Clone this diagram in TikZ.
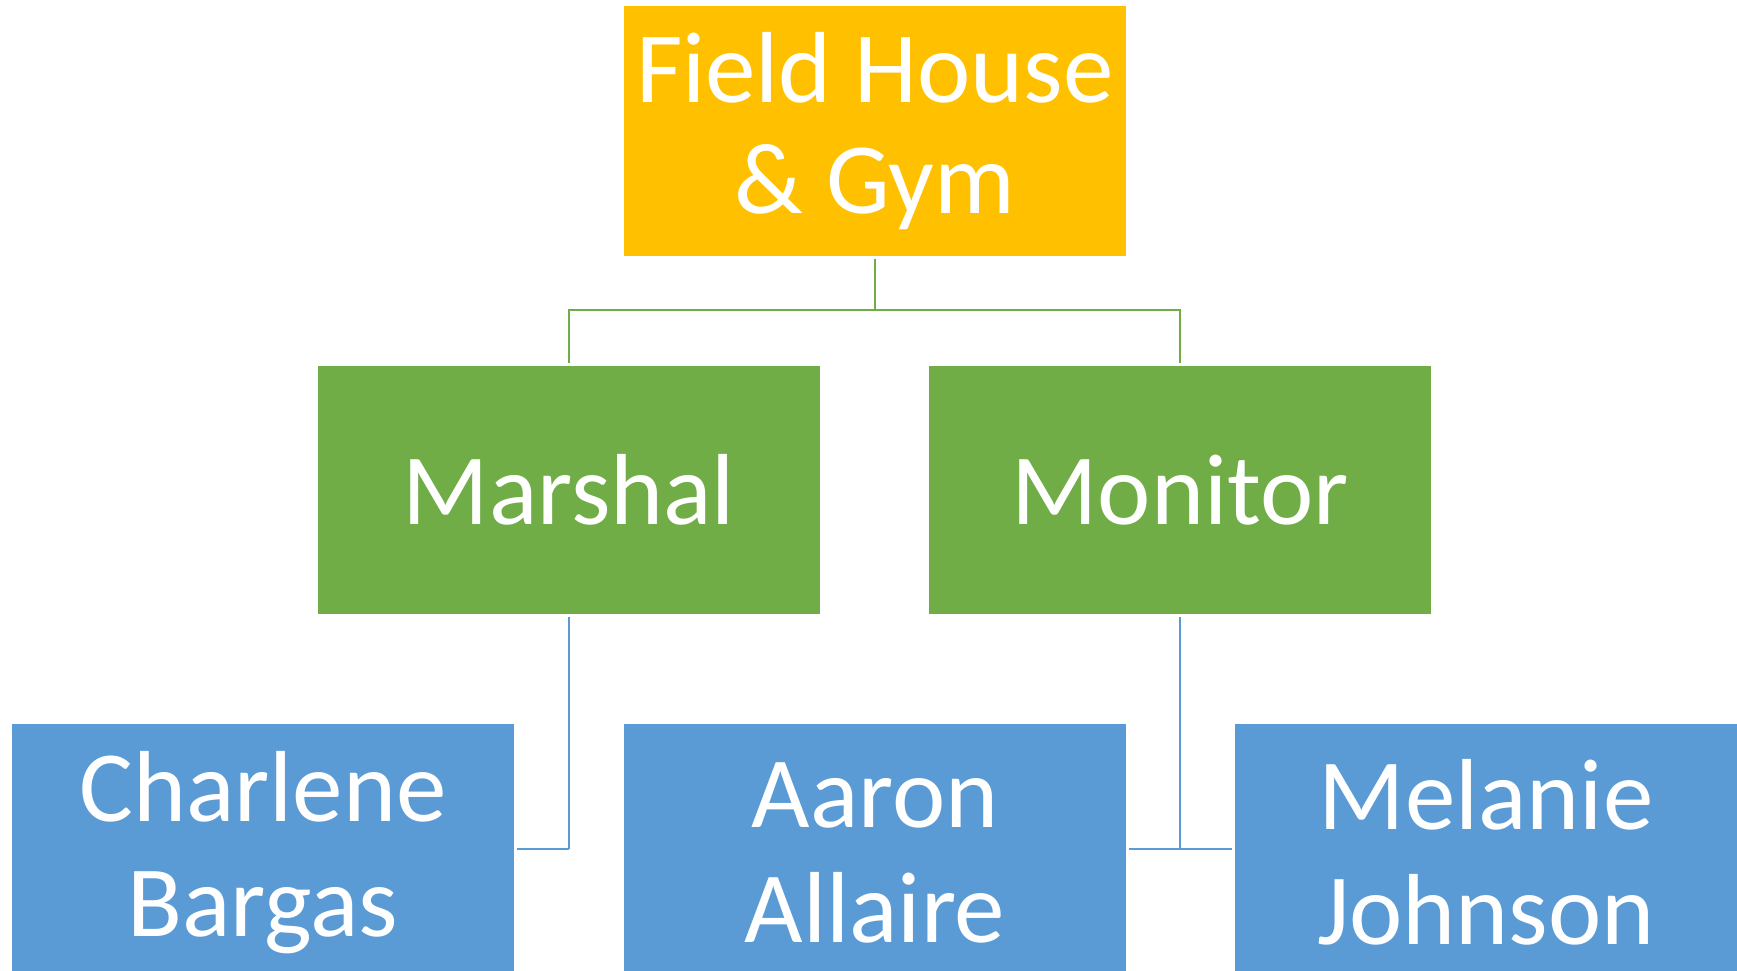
\documentclass[tikz,border=0pt]{standalone}
\usepackage{fontspec}
\setmainfont{Carlito}
\usepackage{xcolor}
\usepackage{tikz}
\definecolor{headorange}{HTML}{FFC000}
\definecolor{rolegreen}{HTML}{70AD47}
\definecolor{staffblue}{HTML}{5B9BD5}

\begin{document}
\begin{tikzpicture}[x=1pt, y=1pt,
    box/.style={inner sep=0pt, minimum width=502pt, minimum height=250pt, align=center, text=white, font=\fontsize{101}{111}\selectfont},
    headbox/.style={box, fill=headorange},
    rolebox/.style={box, fill=rolegreen, minimum height=248pt},
    staffbox/.style={box, fill=staffblue, minimum height=257pt, font=\fontsize{101}{115}\selectfont},
    greenlink/.style={rolegreen, line width=2pt, shorten <=3pt, shorten >=3pt},
    bluelink/.style={staffblue, line width=2pt, shorten <=3pt, shorten >=3pt}
]
\useasboundingbox (0,0) rectangle (1737,970);
\clip (0,0) rectangle (1737,970);
% Level 1: venue
\node[headbox] (gym) at (875,839) {Field House\\\& Gym};
% Level 2: roles
\node[rolebox] (marshal) at (569,480) {Marshal};
\node[rolebox] (monitor) at (1180,480) {Monitor};
% Level 3: people
\node[staffbox] (charlene) at (263,117.5) {Charlene\\Bargas};
\node[staffbox] (aaron) at (875,117.5) {Aaron\\Allaire};
\node[staffbox] (melanie) at (1486,117.5) {Melanie\\Johnson};
% Links venue -> roles
\coordinate (split) at (875,660);
\draw[greenlink, shorten >=0pt] (gym.south) -- (split);
\draw[greenlink, shorten <=0pt] (split) -| (marshal.north);
\draw[greenlink, shorten <=0pt] (split) -| (monitor.north);
% Links roles -> people
\coordinate (leftjoin) at (569,121);
\coordinate (rightjoin) at (1180,121);
\draw[bluelink, shorten >=0pt] (marshal.south) -- (leftjoin);
\draw[bluelink, shorten <=0pt] (leftjoin) -- (leftjoin -| charlene.east);
\draw[bluelink, shorten >=0pt] (monitor.south) -- (rightjoin);
\draw[bluelink, shorten <=0pt] (rightjoin) -- (rightjoin -| aaron.east);
\draw[bluelink, shorten <=0pt] (rightjoin) -- (rightjoin -| melanie.west);
\end{tikzpicture}
\end{document}
